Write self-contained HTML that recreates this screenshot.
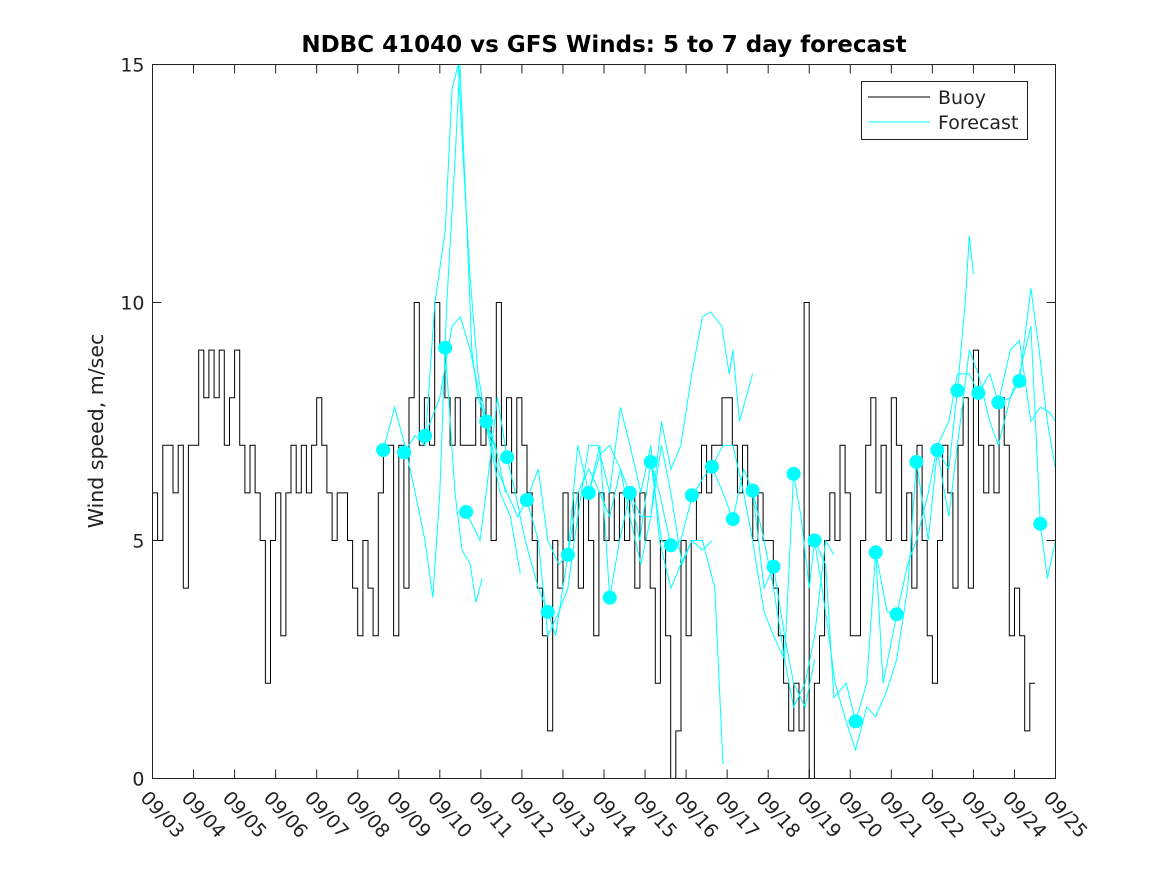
<!DOCTYPE html>
<html><head><meta charset="utf-8"><style>
body{margin:0;background:#fff;}
svg{display:block;font-family:"DejaVu Sans","Liberation Sans",sans-serif;}
</style></head><body>
<svg id="chart" width="1167" height="875" viewBox="0 0 1167 875">
<rect width="1167" height="875" fill="#fff"/>
<text x="604" y="52" text-anchor="middle" font-size="23" font-weight="bold" fill="#000">NDBC 41040 vs GFS Winds: 5 to 7 day forecast</text>
<text transform="translate(103,431) rotate(-90)" text-anchor="middle" font-size="20.5" fill="#222">Wind speed, m/sec</text>
<g id="axes"></g>
<g id="marks"></g>
<rect x="152.5" y="64.5" width="903" height="714" fill="none" stroke="#222" stroke-width="1"/>
<g id="legend">
<rect x="861.5" y="81.5" width="166" height="58" fill="#fff" stroke="#222"/>
<line x1="868" y1="97" x2="930" y2="97" stroke="#000"/>
<text x="938" y="104" font-size="19" fill="#222">Buoy</text>
<line x1="868" y1="122" x2="930" y2="122" stroke="#00ffff"/>
<text x="938" y="129" font-size="19" fill="#222">Forecast</text>
</g>
</svg>
<script>
const xTickLabels=["09/03","09/04","09/05","09/06","09/07","09/08","09/09","09/10","09/11","09/12","09/13","09/14","09/15","09/16","09/17","09/18","09/19","09/20","09/21","09/22","09/23","09/24","09/25"];
const yTicks=[0,5,10,15];
const buoyStart=3;
const buoyStepDays=0.125;
const buoyVals=[6,5,7,7,6,7,4,7, 7,9,8,9,8,9,7,8, 9,7,6,7,6,5,2,5, 6,3,6,7,6,7,6,7, 8,7,6,5,6,6,5,4,
3,5,4,3,6,7,7,3, 7,4,8,10,7,8,7,10, 9,8,7,8,7,7,7,8, 7,8,5,10,7,8,6,8, 7,6,5,4,3,1,5,4,
6,5,6,4,6,5,3,6, 5,6,5,6,5,6,4,6, 5,4,2,5,3,0,1,5, 3,5,6,7,6,7,7,8, 8,7,6,7,6,5,6,5,
5,4,3,2,1,2,1,10, 0,2,3,5,6,5,7,6, 3,3,5,7,8,6,7,5, 8,7,5,6,4,7,5,3, 2,5,7,6,4,7,8,4,
9,7,6,7,6,8,7,3, 4,3,1,2];
const circleDays=[8.62,9.13,9.64,10.13,10.64,11.13,11.64,12.12,12.63,13.12,13.63,14.14,14.63,15.14,15.63,16.14,16.63,17.14,17.62,18.13,18.62,19.13,20.13,20.62,21.13,21.61,22.12,22.61,23.12,23.61,24.12,24.63];
const circleVals=[6.9,6.85,7.2,9.05,5.6,7.5,6.75,5.85,3.5,4.7,6.0,3.8,6.0,6.65,4.9,5.95,6.55,5.45,6.05,4.45,6.4,5.0,1.2,4.75,3.45,6.65,6.9,8.15,8.1,7.9,8.35,5.35];
const fc1Days=[8.62,8.9,9.15,9.4,9.64,9.83,10.0,10.17,10.37,10.49,10.64,10.78,10.93,11.13,11.35,11.6];
const fc1Vals=[6.9,7.8,7.0,6.0,5.0,3.8,6.0,10.0,13.0,15.0,12.0,9.0,8.0,7.5,7.0,6.0];
const fc2Days=[9.13,9.4,9.64,9.88,10.13,10.3,10.45,10.57,10.74,10.93,11.13,11.4];
const fc2Vals=[6.85,7.2,7.0,10.0,11.5,14.5,15.0,13.0,10.5,8.5,7.5,6.8];
const fc3Days=[9.64,10.0,10.3,10.5,10.74,10.98,11.23,11.47,11.72,11.96];
const fc3Vals=[7.2,8.0,9.5,9.7,9.0,8.0,7.0,6.0,5.5,4.3];
const fc4Days=[10.13,10.37,10.54,10.74,10.88,11.03];
const fc4Vals=[9.05,6.0,4.8,4.5,3.7,4.2];
const fc5Days=[10.64,10.98,11.13,11.4,11.64,11.84,12.08,12.4,12.63,12.82,13.12,13.36,13.63,13.9,14.14,14.38,14.63,14.87,15.14,15.35,15.63];
const fc5Vals=[5.6,5.0,6.0,8.0,6.75,6.0,5.0,4.0,3.5,3.0,4.7,7.0,6.0,7.0,3.8,5.0,6.0,5.0,6.65,6.0,4.9];
const fc6Days=[11.13,11.4,11.64,11.9,12.12,12.4,12.63,12.9,13.12,13.36,13.63,13.85,14.14,14.4,14.63,14.9,15.14,15.35,15.63,15.87,16.14,16.4,16.63];
const fc6Vals=[7.5,6.5,6.0,5.5,5.85,5.0,3.0,3.5,4.0,5.5,7.0,7.0,6.0,7.8,7.0,6.0,7.0,5.0,4.0,4.5,5.0,4.8,5.0];
const fc7Days=[12.12,12.4,12.63,12.9,13.12,13.36,13.63,13.9,14.14,14.4,14.63,14.9,15.14,15.4,15.63,15.9,16.14,16.4,16.7,16.9];
const fc7Vals=[5.85,6.5,5.0,4.5,4.7,6.0,6.5,6.0,5.5,6.5,6.0,5.5,5.5,7.0,6.0,4.5,5.0,5.0,4.0,0.3];
const fc8Days=[13.63,13.9,14.14,14.4,14.63,14.9,15.14,15.4,15.63,15.87,16.14,16.4,16.6,16.87,17.05,17.14,17.3,17.62];
const fc8Vals=[6.0,6.8,7.0,6.5,5.5,4.5,5.5,7.5,6.5,7.0,8.5,9.7,9.8,9.5,8.5,9.0,7.5,8.5];
const fc9Days=[15.14,15.4,15.63,15.87,16.14,16.4,16.63,16.9,17.14,17.4,17.62,17.9,18.13,18.4,18.62,18.9,19.13];
const fc9Vals=[6.65,5.0,4.9,5.0,5.9,6.3,6.55,6.0,5.45,6.5,6.05,4.0,4.45,3.0,2.0,1.5,2.5];
const fc10Days=[16.63,16.9,17.14,17.4,17.62,17.9,18.13,18.4,18.62,18.9,19.13,19.4,19.6];
const fc10Vals=[6.55,7.0,7.0,6.0,5.0,3.5,3.0,2.5,1.5,2.0,3.0,5.0,4.7];
const fc11Days=[17.62,17.9,18.13,18.4,18.62,18.8,19.0,19.13,19.4,19.6,19.9,20.13,20.4,20.62,20.8,21.13];
const fc11Vals=[6.05,5.0,4.0,2.5,6.4,5.5,4.0,5.0,4.5,1.7,2.0,1.2,2.0,4.75,2.0,3.45];
const fc12Days=[19.13,19.4,19.63,19.9,20.13,20.4,20.62,20.87,21.13,21.4,21.61,21.9,22.12,22.4,22.61,22.8,22.9,23.0];
const fc12Vals=[5.0,3.5,2.0,1.2,0.6,1.5,1.3,1.8,2.5,4.0,6.65,5.0,6.9,6.5,8.15,10.0,11.4,10.6];
const fc13Days=[20.62,20.9,21.13,21.4,21.61,21.9,22.12,22.4,22.61,22.9,23.12,23.4,23.61,23.9,24.12,24.4,24.6,24.8,25.0];
const fc13Vals=[4.75,3.5,3.45,4.5,5.0,6.0,7.0,7.5,8.5,8.5,8.1,8.5,7.9,8.0,8.35,10.3,9.0,7.5,6.5];
const fc14Days=[22.12,22.4,22.61,22.9,23.12,23.4,23.61,23.9,24.12,24.4,24.63,24.8,25.0];
const fc14Vals=[6.9,5.5,7.0,9.0,8.5,7.5,7.0,8.0,8.5,9.5,5.35,4.2,5.0];
const fc15Days=[23.61,23.9,24.12,24.4,24.63,24.85,25.0];
const fc15Vals=[7.9,9.0,9.2,7.5,7.8,7.7,7.5];
const fcDays=[fc1Days,fc2Days,fc3Days,fc4Days,fc5Days,fc6Days,fc7Days,fc8Days,fc9Days,fc10Days,fc11Days,fc12Days,fc13Days,fc14Days,fc15Days];
const fcVals=[fc1Vals,fc2Vals,fc3Vals,fc4Vals,fc5Vals,fc6Vals,fc7Vals,fc8Vals,fc9Vals,fc10Vals,fc11Vals,fc12Vals,fc13Vals,fc14Vals,fc15Vals];

const NS="http://www.w3.org/2000/svg";
const X0=152.5,X1=1055.5,Y0=778.5,Y1=64.5;
const xs=d=>X0+(d-3)/22*(X1-X0);
const ys=v=>Y0-v/15*(Y0-Y1);
function mk(tag,attrs,parent){const e=document.createElementNS(NS,tag);for(const k in attrs)e.setAttribute(k,attrs[k]);parent.appendChild(e);return e;}
const axes=document.getElementById('axes'),marks=document.getElementById('marks');
xTickLabels.forEach((lab,i)=>{
  const x=xs(3+i);
  const t1=mk('line',{x1:x,y1:Y0,x2:x,y2:Y0-9,stroke:'#222'},axes);
  
  
  const t2=mk('line',{x1:x,y1:Y1,x2:x,y2:Y1+9,stroke:'#222'},axes);
  
  
  const tx=mk('text',{transform:`translate(${x-13},${Y0+20}) rotate(48)`,'font-size':19,fill:'#222'},axes);
  tx.textContent=lab;
  
  
});
yTicks.forEach(v=>{
  const y=ys(v);
  const t1=mk('line',{x1:X0,y1:y,x2:X0+9,y2:y,stroke:'#222'},axes);
  
  
  const t2=mk('line',{x1:X1,y1:y,x2:X1-9,y2:y,stroke:'#222'},axes);
  
  
  const tx=mk('text',{x:X0-8,y:y+7,'text-anchor':'end','font-size':19,fill:'#222'},axes);
  tx.textContent=v;
  
  
});
let d='';
buoyVals.forEach((v,i)=>{const xa=xs(buoyStart+i*buoyStepDays),xb=xs(buoyStart+(i+1)*buoyStepDays),y=ys(v);d+=(i?'L':'M')+xa.toFixed(1)+','+y.toFixed(1)+'L'+xb.toFixed(1)+','+y.toFixed(1);});
const bl=mk('path',{d:d,fill:'none',stroke:'#000','stroke-width':1},marks);


fcDays.forEach((days,k)=>{
  const pts=days.map((t,i)=>xs(t).toFixed(1)+','+ys(fcVals[k][i]).toFixed(1)).join(' ');
  const pl=mk('polyline',{points:pts,fill:'none',stroke:'#00ffff','stroke-width':1},marks);
  
  
});
circleDays.forEach((t,i)=>{
  const c=mk('circle',{cx:xs(t),cy:ys(circleVals[i]),r:7,fill:'#00ffff'},marks);
  
  
});
</script>
</body></html>
